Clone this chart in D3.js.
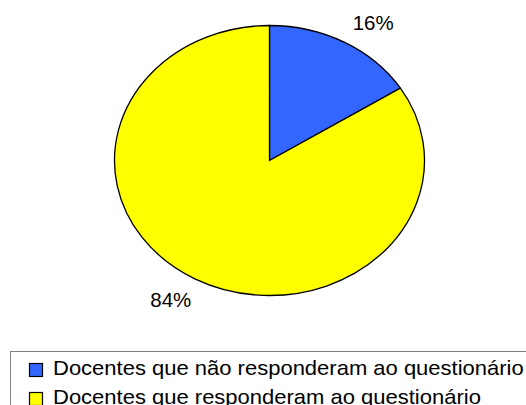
<!DOCTYPE html>
<html><head><meta charset="utf-8">
<script src="https://cdn.jsdelivr.net/npm/d3@7"></script>
<style>html,body{margin:0;padding:0;background:#fff;}svg{display:block;}</style>
</head><body>
<svg id="chart" width="526" height="405"></svg>
<script>
const categories = ["Docentes que não responderam ao questionário", "Docentes que responderam ao questionário"];
const values = [16, 84];
const labels = ["16%", "84%"];
const colors = ["#3366FF", "#FFFF00"];

const svg = d3.select("#chart");
const cx = 269.5, cy = 160.5, rx = 155, ry = 135;
const font = "Arial, 'Liberation Sans', sans-serif";

const pie = d3.pie().sort(null).value(d => d)(values);
const arc = d3.arc().innerRadius(0).outerRadius(rx);

const g = svg.append("g").attr("transform", `translate(${cx},${cy}) scale(1,${ry/rx})`);
g.selectAll("path").data(pie).join("path")
  .attr("d", arc)
  .attr("fill", (d,i) => colors[i])
  .attr("stroke", "#000")
  .attr("stroke-width", 1.3)
  .attr("vector-effect", "non-scaling-stroke");

// labels outside the ellipse
const offs = [[29, -12], [-24, 28]];
svg.selectAll("text.lbl").data(pie).join("text")
  .attr("class", "lbl")
  .attr("transform", (d,i) => {
    const a = (d.startAngle + d.endAngle) / 2;
    const x = cx + Math.sin(a) * rx + offs[i][0];
    const y = cy - Math.cos(a) * ry + offs[i][1];
    return `translate(${x},${y}) scale(1.05,1)`;
  })
  .attr("text-anchor", "middle")
  .attr("font-family", font)
  .attr("font-size", 19.5)
  .attr("fill", "#000")
  .text((d,i) => labels[i]);

// legend
const lg = svg.append("g");
lg.append("rect")
  .attr("x", 10.5).attr("y", 351.5).attr("width", 530).attr("height", 80)
  .attr("fill", "#fff").attr("stroke", "#808080").attr("stroke-width", 1);
const ly = d3.scaleBand().domain(categories).range([360, 418]);
const items = lg.selectAll("g.item").data(categories).join("g").attr("class", "item")
  .attr("transform", d => `translate(0,${ly(d)})`);
items.append("rect")
  .attr("x", 29.5).attr("y", 3.5).attr("width", 13).attr("height", 13)
  .attr("fill", (d,i) => colors[i]).attr("stroke", "#000").attr("stroke-width", 1.2);
items.append("text")
  .attr("transform", "translate(53,15) scale(1.1,1)")
  .attr("font-family", font).attr("font-size", 20).attr("fill", "#000")
  .text(d => d);
</script>
</body></html>
